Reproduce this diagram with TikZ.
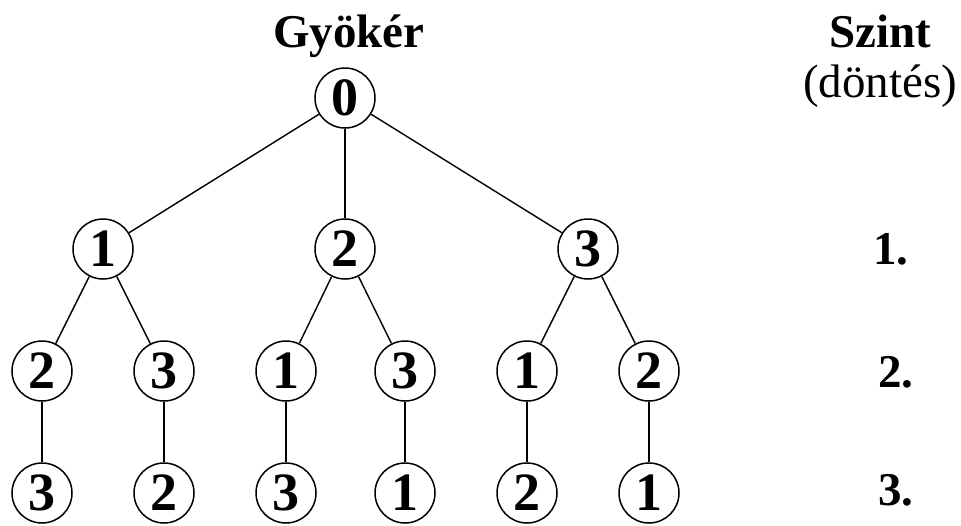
\documentclass[tikz,border=0pt]{standalone}
\usepackage{fontspec}
\setmainfont{Liberation Serif}
\begin{document}
\begin{tikzpicture}[x=1pt,y=-1pt,
  knot/.style={circle,draw,line width=1.5pt,minimum size=60pt,inner sep=0pt,
    font=\fontsize{54}{58}\selectfont\bfseries},
  edge/.style={line width=1.4pt},
  head/.style={font=\fontsize{47}{50}\selectfont\bfseries,anchor=base},
  sub/.style={font=\fontsize{47}{50}\selectfont,anchor=base}]
\useasboundingbox (0,0) rectangle (961,525);
% titles
\node[head] (root-title) at (349,47) {Gyökér};
\node[head] (lvl-title) at (880,47) {Szint};
\node[sub] (lvl-sub) at (880,97) {(döntés)};
\node[head] (l1) at (891,264) {1.};
\node[head] (l2) at (896,387) {2.};
\node[head] (l3) at (896,505) {3.};
% tree
\node[knot] (r) at (345,98) {0};
\node[knot] (a) at (103,249) {1};
\node[knot] (b) at (345,249) {2};
\node[knot] (c) at (588,249) {3};
\node[knot] (a1) at (42,371) {2};
\node[knot] (a2) at (164,371) {3};
\node[knot] (b1) at (286,371) {1};
\node[knot] (b2) at (405,371) {3};
\node[knot] (c1) at (527,371) {1};
\node[knot] (c2) at (649,371) {2};
\node[knot] (a11) at (42,493) {3};
\node[knot] (a21) at (164,493) {2};
\node[knot] (b11) at (286,493) {3};
\node[knot] (b21) at (405,493) {1};
\node[knot] (c11) at (527,493) {2};
\node[knot] (c21) at (649,493) {1};
\draw[edge] (r) -- (a);
\draw[edge] (r) -- (b);
\draw[edge] (r) -- (c);
\draw[edge] (a) -- (a1);
\draw[edge] (a) -- (a2);
\draw[edge] (b) -- (b1);
\draw[edge] (b) -- (b2);
\draw[edge] (c) -- (c1);
\draw[edge] (c) -- (c2);
\draw[edge] (a1) -- (a11);
\draw[edge] (a2) -- (a21);
\draw[edge] (b1) -- (b11);
\draw[edge] (b2) -- (b21);
\draw[edge] (c1) -- (c11);
\draw[edge] (c2) -- (c21);
\end{tikzpicture}
\end{document}
